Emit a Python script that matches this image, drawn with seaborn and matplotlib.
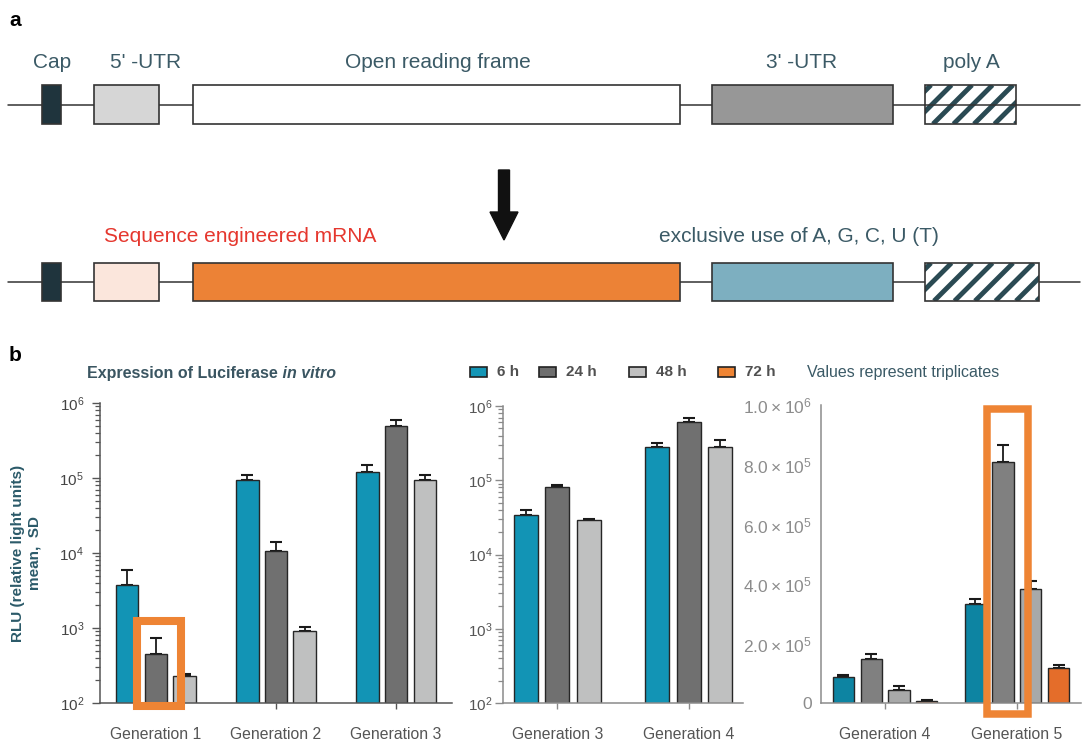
import matplotlib
matplotlib.use("Agg")
import matplotlib.pyplot as plt
import seaborn as sns
import pandas as pd
import numpy as np
from matplotlib.patches import Rectangle, FancyArrow
from matplotlib.ticker import FuncFormatter, LogLocator, NullFormatter, LogFormatterSciNotation, FixedLocator

# ---------------- data ----------------
time_levels = ["6 h", "24 h", "48 h", "72 h"]

gens_p1 = ["Generation 1", "Generation 2", "Generation 3"]
p1_mean_6h = [3700, 95000, 122000]
p1_sd_6h = [2200, 15000, 26000]
p1_mean_24h = [450, 10500, 495000]
p1_sd_24h = [280, 3500, 95000]
p1_mean_48h = [228, 910, 93000]
p1_sd_48h = [15, 110, 17000]

gens_p2 = ["Generation 3", "Generation 4"]
p2_mean_6h = [34000, 283000]
p2_sd_6h = [5500, 35000]
p2_mean_24h = [82000, 615000]
p2_sd_24h = [3000, 85000]
p2_mean_48h = [29000, 278000]
p2_sd_48h = [1500, 70000]

gens_p3 = ["Generation 4", "Generation 5"]
p3_mean_6h = [89000, 332000]
p3_sd_6h = [5000, 17000]
p3_mean_24h = [148000, 810000]
p3_sd_24h = [17000, 56000]
p3_mean_48h = [45000, 385000]
p3_sd_48h = [13000, 25000]
p3_mean_72h = [8000, 119000]
p3_sd_72h = [3000, 8000]

log_ticks = [1e2, 1e3, 1e4, 1e5, 1e6]
lin_ticks = [0, 2e5, 4e5, 6e5, 8e5, 1e6]

# ---------------- style ----------------
sns.set_style("ticks")
plt.rcParams["font.family"] = ["Liberation Sans", "DejaVu Sans"]
plt.rcParams["mathtext.default"] = "regular"

W, H = 1083, 745
fig = plt.figure(figsize=(W / 100, H / 100), dpi=100)

SLATE = "#3B5A66"
pal12 = {"6 h": "#1294B5", "24 h": "#707070", "48 h": "#BFC0C0"}
pal3 = {"6 h": "#0D84A2", "24 h": "#808080", "48 h": "#A8A9A9", "72 h": "#E46D2A"}
legend_cols = {"6 h": "#1496B6", "24 h": "#6E6E6E", "48 h": "#C0C0C0", "72 h": "#EE8434"}
HILITE = "#EE8434"


def frame(gens, means, sds, times):
    rows = []
    for t, m, s in zip(times, means, sds):
        for g, mv, sv in zip(gens, m, s):
            rows.append({"gen": g, "time": t, "mean": mv, "sd": sv})
    return pd.DataFrame(rows)


def draw(ax, df, gens, times, pal, width, gap):
    sns.barplot(data=df, x="gen", y="mean", hue="time", order=gens, hue_order=times,
                palette=pal, width=width, gap=gap, errorbar=None, edgecolor="#262626",
                linewidth=1.0, legend=False, ax=ax, saturation=1)
    bars = {}
    for t, cont in zip(times, ax.containers):
        sub = df[df.time == t].set_index("gen").loc[gens]
        xs = [p.get_x() + p.get_width() / 2 for p in cont.patches]
        tops = [p.get_y() + p.get_height() for p in cont.patches]
        ax.errorbar(xs, tops, yerr=[np.zeros(len(xs)), sub["sd"].values], fmt="none",
                    ecolor="#1a1a1a", elinewidth=1.3, capsize=4.5, capthick=1.5, zorder=0.9)
        for g, p in zip(gens, cont.patches):
            bars[(g, t)] = p
    ax.set_xlabel("")
    ax.set_ylabel("")
    sns.despine(ax=ax)
    return bars


# ---------------- overlay axes (panel a schematic and texts) ----------------
ax0 = fig.add_axes([0, 0, 1, 1])
ax0.set_xlim(0, W)
ax0.set_ylim(H, 0)
ax0.axis("off")

ax0.text(9, 26, "a", fontsize=15, fontweight="bold", color="black")
ax0.text(9, 361, "b", fontsize=15, fontweight="bold", color="black")

EDGE = "#333333"


def backbone(y, x0=8, x1=1080):
    ax0.plot([x0, x1], [y, y], color=EDGE, lw=1.1, zorder=1)


def box(x0, x1, y0, y1, fc):
    ax0.add_patch(Rectangle((x0, y0), x1 - x0, y1 - y0, fc=fc, ec=EDGE, lw=1.2, zorder=2))


def hatched(x0, x1, y0, y1, through=None):
    bg = Rectangle((x0, y0), x1 - x0, y1 - y0, fc="white", ec="none", zorder=2)
    ax0.add_patch(bg)
    h = y1 - y0
    k = x0 - h + 6
    while k < x1:
        ln, = ax0.plot([k, k + h], [y1, y0], color="#2A4A53", lw=3.5,
                       solid_capstyle="butt", zorder=3)
        ln.set_clip_path(bg)
        k += 20.5
    if through is not None:
        ax0.plot([x0, x1], [through, through], color=EDGE, lw=1.1, zorder=3.5)
    ax0.add_patch(Rectangle((x0, y0), x1 - x0, h, fc="none", ec=EDGE, lw=1.2, zorder=4))


# top row
backbone(104.5)
box(42, 61, 85, 124, "#1F343D")
box(94, 159, 85, 124, "#D6D6D6")
box(193, 680, 85, 124, "white")
box(712, 893, 85, 124, "#979797")
hatched(925, 1016, 85, 124, through=104.5)

for x, s in [(52, "Cap"), (146, "5' -UTR"), (438, "Open reading frame"),
             (802, "3' -UTR"), (971, "poly A")]:
    ax0.text(x, 68, s, ha="center", va="baseline", fontsize=15, color=SLATE)

# arrow
ax0.add_patch(FancyArrow(504, 170, 0, 70, width=11, head_width=28, head_length=28,
                         length_includes_head=True, color="#111111", zorder=3))

# bottom row
backbone(282)
box(42, 61, 263, 301, "#1F343D")
box(94, 159, 263, 301, "#FBE6DC")
box(193, 680, 263, 301, "#EC8236")
box(712, 893, 263, 301, "#7DAFC0")
hatched(925, 1039, 263, 301)

ax0.text(104, 242, "Sequence engineered mRNA", ha="left", va="baseline", fontsize=15,
         color="#E5372E")
ax0.text(659, 242, "exclusive use of A, G, C, U (T)", ha="left", va="baseline",
         fontsize=15, color=SLATE)

# panel b header
t1 = ax0.text(87, 378, "Expression of Luciferase", ha="left", va="baseline",
              fontsize=11.5, fontweight="bold", color="#3A5561")
ax0.annotate(" in vitro", xy=(1, 0), xycoords=t1, ha="left", va="bottom",
             fontsize=11.5, fontweight="bold", fontstyle="italic", color="#3A5561")

leg_x = {"6 h": 470, "24 h": 539, "48 h": 629, "72 h": 718}
for t in time_levels:
    ax0.add_patch(Rectangle((leg_x[t], 367), 17, 10, fc=legend_cols[t], ec="#222222",
                            lw=1.2, zorder=3))
    ax0.text(leg_x[t] + 27, 372, t, ha="left", va="center", fontsize=11,
             fontweight="bold", color="#505050")
ax0.text(807, 372, "Values represent triplicates", ha="left", va="center",
         fontsize=11.5, color=SLATE)

ax0.text(26, 553, "RLU (relative light units)\nmean,  SD", rotation=90, ha="center",
         va="center", multialignment="center", fontsize=11, fontweight="bold",
         color="#2B5A69", linespacing=1.25)

# ---------------- panel b1 (log) ----------------
ax1 = fig.add_axes([100 / W, 1 - 703 / H, 352 / W, 300 / H])
ax1.patch.set_alpha(0)
df1 = frame(gens_p1, [p1_mean_6h, p1_mean_24h, p1_mean_48h],
            [p1_sd_6h, p1_sd_24h, p1_sd_48h], time_levels[:3])
bars1 = draw(ax1, df1, gens_p1, time_levels[:3], pal12, width=0.715, gap=0.215)

# ---------------- panel b2 (log) ----------------
ax2 = fig.add_axes([503 / W, 1 - 703 / H, 240 / W, 297 / H])
ax2.patch.set_alpha(0)
df2 = frame(gens_p2, [p2_mean_6h, p2_mean_24h, p2_mean_48h],
            [p2_sd_6h, p2_sd_24h, p2_sd_48h], time_levels[:3])
bars2 = draw(ax2, df2, gens_p2, time_levels[:3], pal12, width=0.715, gap=0.23)

for ax, spc, lcol, pad in [(ax1, "#555555", "#444444", 5.5), (ax2, "#8A8A8A", "#555555", 1.5)]:
    ax.set_yscale("log")
    ax.set_ylim(log_ticks[0], log_ticks[-1])
    ax.yaxis.set_major_locator(FixedLocator(log_ticks))
    ax.yaxis.set_major_formatter(LogFormatterSciNotation())
    ax.yaxis.set_minor_locator(LogLocator(base=10, subs=np.arange(2, 10)))
    ax.yaxis.set_minor_formatter(NullFormatter())
    for s in ("left", "bottom"):
        ax.spines[s].set_color(spc)
        ax.spines[s].set_linewidth(1.1)
    ax.tick_params(axis="y", which="major", length=6, width=1, color=spc,
                   labelsize=11, labelcolor=lcol, pad=pad)
    ax.tick_params(axis="y", which="minor", length=3.5, width=0.9, color=spc)
    ax.tick_params(axis="x", length=4, width=1, color=spc, labelsize=11.3,
                   labelcolor="#555555", pad=13)

# ---------------- panel b3 (linear) ----------------
ax3 = fig.add_axes([821 / W, 1 - 703.3 / H, 260 / W, 298 / H])
ax3.patch.set_alpha(0)
df3 = frame(gens_p3, [p3_mean_6h, p3_mean_24h, p3_mean_48h, p3_mean_72h],
            [p3_sd_6h, p3_sd_24h, p3_sd_48h, p3_sd_72h], time_levels)
bars3 = draw(ax3, df3, gens_p3, time_levels, pal3, width=0.844, gap=0.24)
ax3.set_ylim(lin_ticks[0], lin_ticks[-1])
ax3.yaxis.set_major_locator(FixedLocator(lin_ticks))


def sci_fmt(v, pos):
    if v == 0:
        return "0"
    e = int(np.floor(np.log10(v)))
    return r"$\mathdefault{%.1f\times10^{%d}}$" % (v / 10 ** e, e)


ax3.yaxis.set_major_formatter(FuncFormatter(sci_fmt))
for s in ("left", "bottom"):
    ax3.spines[s].set_color("#8C8C8C")
    ax3.spines[s].set_linewidth(1.1)
ax3.tick_params(axis="y", length=0, labelsize=12.5, labelcolor="#8C8C8C", pad=6.5)
ax3.tick_params(axis="x", length=4, width=1, color="#8C8C8C", labelsize=11.3,
                labelcolor="#555555", pad=13)

# ---------------- highlight boxes ----------------
p = bars1[("Generation 1", "24 h")]
cx = p.get_x() + p.get_width() / 2 + 0.03
ax1.add_patch(Rectangle((cx - 0.183, -0.01), 0.366, 0.283, transform=ax1.get_xaxis_transform(),
                        fill=False, ec=HILITE, lw=5.8, clip_on=False, zorder=5,
                        joinstyle="miter"))
p = bars3[("Generation 5", "24 h")]
cx = p.get_x() + p.get_width() / 2 + 0.035
ax3.add_patch(Rectangle((cx - 0.1585, -0.036), 0.317, 1.024, transform=ax3.get_xaxis_transform(),
                        fill=False, ec=HILITE, lw=5.4, clip_on=False, zorder=5,
                        joinstyle="miter"))

fig.savefig("out.png", dpi=100)
